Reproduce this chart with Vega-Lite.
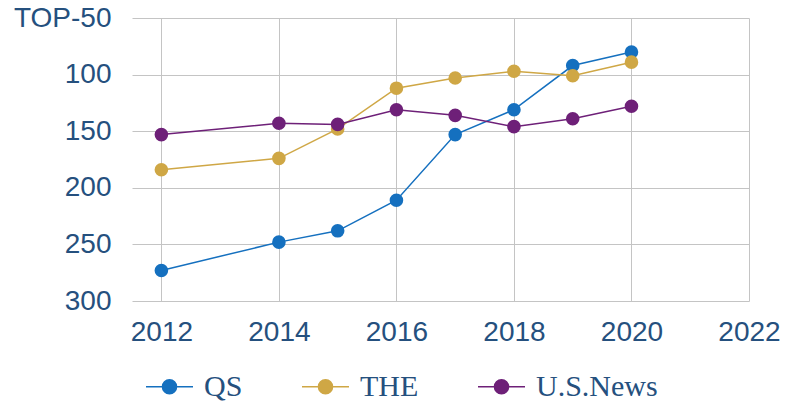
{
  "$schema": "https://vega.github.io/schema/vega-lite/v6.json",
  "autosize": {"type": "none"},
  "padding": {"left": 132, "top": 18, "right": 36, "bottom": 101},
  "width": 617,
  "height": 283,
  "background": "white",
  "data": {
    "values": [
      {"year": 2012, "series": "QS", "rank": 273},
      {"year": 2014, "series": "QS", "rank": 248},
      {"year": 2015, "series": "QS", "rank": 238},
      {"year": 2016, "series": "QS", "rank": 211},
      {"year": 2017, "series": "QS", "rank": 153},
      {"year": 2018, "series": "QS", "rank": 131},
      {"year": 2019, "series": "QS", "rank": 92},
      {"year": 2020, "series": "QS", "rank": 80},
      {"year": 2012, "series": "THE", "rank": 184},
      {"year": 2014, "series": "THE", "rank": 174},
      {"year": 2015, "series": "THE", "rank": 148},
      {"year": 2016, "series": "THE", "rank": 112},
      {"year": 2017, "series": "THE", "rank": 103},
      {"year": 2018, "series": "THE", "rank": 97},
      {"year": 2019, "series": "THE", "rank": 101},
      {"year": 2020, "series": "THE", "rank": 89},
      {"year": 2012, "series": "U.S.News", "rank": 153},
      {"year": 2014, "series": "U.S.News", "rank": 143},
      {"year": 2015, "series": "U.S.News", "rank": 144},
      {"year": 2016, "series": "U.S.News", "rank": 131},
      {"year": 2017, "series": "U.S.News", "rank": 136},
      {"year": 2018, "series": "U.S.News", "rank": 146},
      {"year": 2019, "series": "U.S.News", "rank": 139},
      {"year": 2020, "series": "U.S.News", "rank": 128}
    ]
  },
  "mark": {"type": "line", "strokeWidth": 1.5, "point": {"filled": true, "size": 185, "opacity": 1}},
  "encoding": {
    "x": {
      "field": "year", "type": "quantitative",
      "scale": {"domain": [2011.5, 2022], "nice": false, "zero": false},
      "axis": {
        "title": null, "values": [2012, 2014, 2016, 2018, 2020, 2022], "format": "d",
        "domain": false, "ticks": false, "grid": true, "gridColor": "#c4c4c4", "gridWidth": 1, "gridOpacity": 1,
        "labelFont": "Liberation Sans", "labelFontSize": 28, "labelColor": "#25507e", "labelPadding": 17,
        "labelFlush": false, "labelOverlap": false
      }
    },
    "y": {
      "field": "rank", "type": "quantitative",
      "scale": {"domain": [50, 300], "reverse": true, "nice": false, "zero": false},
      "axis": {
        "title": null, "values": [50, 100, 150, 200, 250, 300],
        "labelExpr": "datum.value == 50 ? 'TOP-50' : datum.label",
        "domain": false, "ticks": false, "grid": true, "gridColor": "#c4c4c4", "gridWidth": 1, "gridOpacity": 1,
        "labelFont": "Liberation Sans", "labelFontSize": 28, "labelColor": "#25507e", "labelPadding": 21,
        "labelFlush": false, "labelOverlap": false
      }
    },
    "color": {
      "field": "series", "type": "nominal",
      "scale": {"domain": ["QS", "THE", "U.S.News"], "range": ["#1570bf", "#cfa745", "#6e2078"]},
      "legend": {
        "title": null, "orient": "none", "direction": "horizontal", "legendX": 13, "legendY": 344,
        "symbolType": "M-1,0H1M0.3,0A0.3,0.3,0,1,1,-0.3,0A0.3,0.3,0,1,1,0.3,0Z",
        "symbolSize": 2209, "symbolStrokeWidth": 1.5, "labelOffset": 10, "columnPadding": 56,
        "labelFont": "Liberation Serif", "labelFontSize": 30, "labelColor": "#25507e",
        "encode": {"symbols": {"update": {"fill": {"scale": "color", "field": "value"}, "stroke": {"scale": "color", "field": "value"}, "opacity": {"value": 1}}}}
      }
    }
  },
  "config": {"view": {"stroke": null}}
}
